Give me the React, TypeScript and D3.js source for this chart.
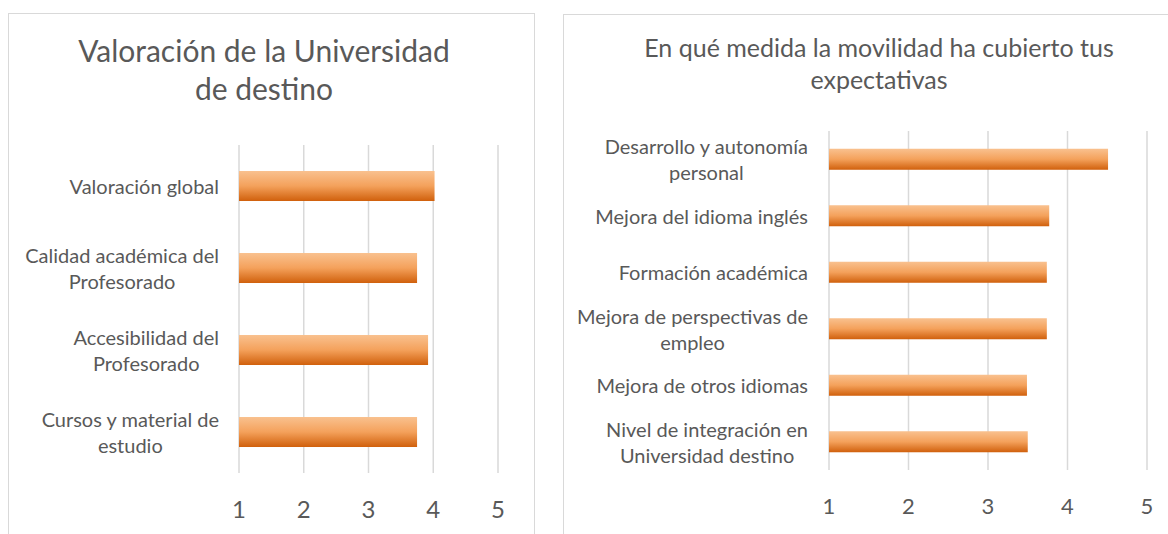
import React, { useEffect, useRef } from "react";
import * as d3 from "d3";

const leftTitle = ["Valoración de la Universidad", "de destino"];
const leftCategories = [
  ["Valoración global"],
  ["Calidad académica del", "Profesorado"],
  ["Accesibilidad del", "Profesorado"],
  ["Cursos y material de", "estudio"],
];
const leftValues = [4.02, 3.75, 3.92, 3.75];

const rightTitle = ["En qué medida la movilidad ha cubierto tus", "expectativas"];
const rightCategories = [
  ["Desarrollo y autonomía", "personal"],
  ["Mejora del idioma inglés"],
  ["Formación académica"],
  ["Mejora de perspectivas de", "empleo"],
  ["Mejora de otros idiomas"],
  ["Nivel de integración en", "Universidad destino"],
];
const rightValues = [4.51, 3.77, 3.74, 3.74, 3.49, 3.5];

const ticks = [1, 2, 3, 4, 5];

const FONT = "Lato, 'Open Sans', sans-serif";
const TEXT = "#595959";
const GRID = "#d9d9d9";

type Panel = {
  box: [number, number, number, number];
  title: string[];
  titleSize: number;
  titleY: number;
  titleLH: number;
  titleCx: number;
  cats: string[][];
  vals: number[];
  xRange: [number, number];
  yRange: [number, number];
  pad: number;
  labelSize: number;
  labelRight: number;
  tickSize: number;
  tickY: number;
};

const panels: Panel[] = [
  {
    box: [8.5, 13.5, 526, 540],
    title: leftTitle,
    titleSize: 30,
    titleY: 50,
    titleLH: 38,
    titleCx: 264,
    cats: leftCategories,
    vals: leftValues,
    xRange: [239, 498],
    yRange: [145, 473],
    pad: 0.634,
    labelSize: 20,
    labelRight: 219,
    tickSize: 24,
    tickY: 508,
  },
  {
    box: [563.5, 14.5, 640, 540],
    title: rightTitle,
    titleSize: 25,
    titleY: 47,
    titleLH: 32,
    titleCx: 879,
    cats: rightCategories,
    vals: rightValues,
    xRange: [829, 1147],
    yRange: [131, 470],
    pad: 0.628,
    labelSize: 20,
    labelRight: 808,
    tickSize: 22,
    tickY: 505,
  },
];

export default function App() {
  const ref = useRef<SVGSVGElement | null>(null);

  useEffect(() => {
    const svg = d3.select(ref.current);
    svg.selectAll("*").remove();

    const defs = svg.append("defs");
    const grad = defs
      .append("linearGradient")
      .attr("id", "barGrad")
      .attr("x1", 0)
      .attr("y1", 0)
      .attr("x2", 0)
      .attr("y2", 1);
    grad.append("stop").attr("offset", "0%").attr("stop-color", "#f9c18f");
    grad.append("stop").attr("offset", "50%").attr("stop-color", "#f4a15b");
    grad.append("stop").attr("offset", "100%").attr("stop-color", "#d0600c");

    svg.append("rect").attr("width", 1168).attr("height", 534).attr("fill", "#fff");

    panels.forEach((p) => {
      const g = svg.append("g");
      g.append("rect")
        .attr("x", p.box[0])
        .attr("y", p.box[1])
        .attr("width", p.box[2])
        .attr("height", p.box[3])
        .attr("fill", "#fff")
        .attr("stroke", GRID)
        .attr("stroke-width", 1);

      // title
      p.title.forEach((t, i) => {
        g.append("text")
          .attr("x", p.titleCx)
          .attr("y", p.titleY + i * p.titleLH)
          .attr("text-anchor", "middle")
          .attr("dominant-baseline", "central")
          .attr("font-family", FONT)
          .attr("font-size", p.titleSize)
          .attr("fill", TEXT)
          .text(t);
      });

      const x = d3.scaleLinear().domain([1, 5]).range(p.xRange);
      const y = d3
        .scaleBand<number>()
        .domain(p.cats.map((_, i) => i))
        .range(p.yRange)
        .paddingInner(p.pad)
        .paddingOuter(p.pad / 2);

      // gridlines
      g.selectAll(".grid")
        .data(ticks)
        .enter()
        .append("line")
        .attr("x1", (d) => x(d))
        .attr("x2", (d) => x(d))
        .attr("y1", p.yRange[0])
        .attr("y2", p.yRange[1])
        .attr("stroke", GRID)
        .attr("stroke-width", 1.5);

      // bars
      g.selectAll(".bar")
        .data(p.vals)
        .enter()
        .append("rect")
        .attr("x", x(1))
        .attr("y", (_, i) => y(i) as number)
        .attr("width", (d) => x(d) - x(1))
        .attr("height", y.bandwidth())
        .attr("fill", "url(#barGrad)");

      // tick labels
      g.selectAll(".tick")
        .data(ticks)
        .enter()
        .append("text")
        .attr("x", (d) => x(d))
        .attr("y", p.tickY)
        .attr("text-anchor", "middle")
        .attr("dominant-baseline", "central")
        .attr("font-family", FONT)
        .attr("font-size", p.tickSize)
        .attr("fill", TEXT)
        .text((d) => String(d));

      // category labels
      const lh = 26;
      p.cats.forEach((lines, i) => {
        const cy = (y(i) as number) + y.bandwidth() / 2;
        const texts = lines.map((line, j) =>
          g
            .append("text")
            .attr("y", cy + (j - (lines.length - 1) / 2) * lh)
            .attr("text-anchor", "middle")
            .attr("dominant-baseline", "central")
            .attr("font-family", FONT)
            .attr("font-size", p.labelSize)
            .attr("fill", TEXT)
            .text(line)
        );
        const widths = texts.map((t) => (t.node() as SVGTextElement).getComputedTextLength());
        const maxW = Math.max(...widths);
        texts.forEach((t) => t.attr("x", p.labelRight - maxW / 2));
      });
    });
  }, []);

  return (
    <svg
      ref={ref}
      width={1168}
      height={534}
      style={{ position: "absolute", left: 0, top: 0, display: "block" }}
    />
  );
}
